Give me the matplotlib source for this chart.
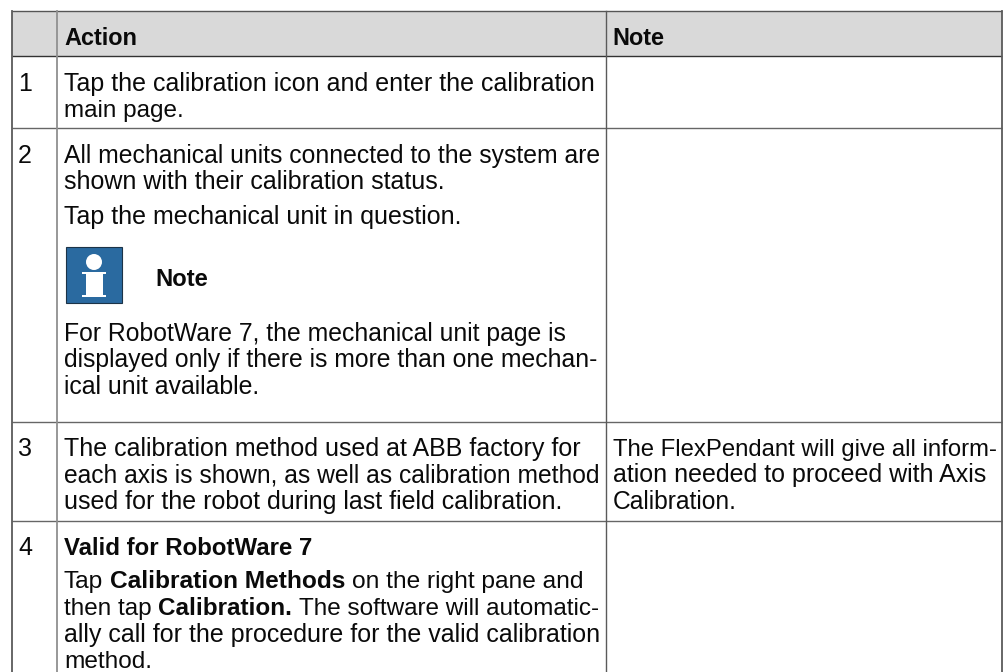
import matplotlib
matplotlib.use("Agg")
import matplotlib.pyplot as plt
from matplotlib.patches import Rectangle, Circle

plt.rcParams['font.family'] = ['Liberation Sans', 'DejaVu Sans']

header_labels = ["Action", "Note"]
step_numbers = ["1", "2", "3", "4"]
step_baselines = [91, 163, 456, 555]
# (baseline, right end of line, runs of (text, bold))
action_lines = [
    (91, 596, [("Tap the calibration icon and enter the calibration", False)]),
    (117, 184, [("main page.", False)]),
    (163, 599.3, [("All mechanical units connected to the system are", False)]),
    (189, 445, [("shown with their calibration status.", False)]),
    (224, 462, [("Tap the mechanical unit in question.", False)]),
    (341, 566, [("For RobotWare 7, the mechanical unit page is", False)]),
    (367, 599.5, [("displayed only if there is more than one mechan-", False)]),
    (394, 260, [("ical unit available.", False)]),
    (456, 580, [("The calibration method used at ABB factory for", False)]),
    (482, 599, [("each axis is shown, as well as calibration method", False)]),
    (509, 563, [("used for the robot during last field calibration.", False)]),
    (555, 313, [("Valid for RobotWare 7", True)]),
    (588, 584, [("Tap", False), ("Calibration Methods", True), ("on the right pane and", False)]),
    (615, 600, [("then tap", False), ("Calibration.", True), ("The software will automatic-", False)]),
    (642, 599.5, [("ally call for the procedure for the valid calibration", False)]),
    (668, 152, [("method.", False)]),
]
note_lines = [
    (456, 996, "The FlexPendant will give all inform-"),
    (482, 986, "ation needed to proceed with Axis"),
    (509, 737, "Calibration."),
]
col_edges = [12, 57.5, 606.5, 1002]
row_edges = [10.5, 56, 128, 421.7, 520.7]

FS = 18.0
fig = plt.figure(figsize=(10.06, 6.72), dpi=100)
ax = fig.add_axes([0, 0, 1, 1])
ax.set_xlim(0, 1006)
ax.set_ylim(672, 0)
ax.axis('off')

ax.add_patch(Rectangle((col_edges[0], row_edges[0]), col_edges[-1]-col_edges[0],
                       row_edges[1]-row_edges[0], fc='#d9d9d9', ec='none', zorder=0))
lc = '#5a5a5a'
line_colors = ['#555555', '#333333', '#666666', '#666666', '#666666']
for y, c in zip(row_edges, line_colors):
    ax.plot([col_edges[0], col_edges[-1]], [y, y], color=c, lw=1.0, solid_capstyle='butt', zorder=2)
ax.plot([col_edges[0]]*2, [row_edges[0], 672], color=lc, lw=1.3, zorder=2)
ax.plot([col_edges[1]]*2, [row_edges[0], 672], color='#909090', lw=1.3, zorder=2)
ax.plot([col_edges[2]]*2, [row_edges[0], 672], color=lc, lw=1.0, zorder=2)
ax.plot([col_edges[3]]*2, [row_edges[0], 672], color=lc, lw=1.3, zorder=2)

tc = '#0a0a0a'
r = fig.canvas.get_renderer()


def width(s, bold, fs=FS):
    p = ax.text(0, 0, s, fontsize=fs, fontweight='bold' if bold else 'normal')
    w = p.get_window_extent(r).width
    p.remove()
    return w


def draw_line(x0, x1, y, runs):
    widths = [width(s, b) for s, b in runs]
    space = 0.278 * FS * 100 / 72
    natural = sum(widths) + space * (len(runs) - 1)
    fs = FS * (x1 - x0) / natural
    x = x0
    for s, b in runs:
        ax.text(x, y, s, fontsize=fs, fontweight='bold' if b else 'normal', color=tc, va='baseline')
        x += width(s, b, fs) + space * fs / FS


draw_line(64, 137, 45, [(header_labels[0], True)])
draw_line(612.7, 665, 45, [(header_labels[1], True)])
for n, y in zip(step_numbers, step_baselines):
    ax.text(18, y, n, fontsize=FS, color=tc, va='baseline')
for y, xe, runs in action_lines:
    draw_line(64, xe, y, runs)
for y, xe, s in note_lines:
    draw_line(612.7, xe, y, [(s, False)])

# note icon
ax.add_patch(Rectangle((66, 247), 56.5, 56, fc='#2a6aa0', ec='#1c3347', lw=0.8, zorder=3))
ax.add_patch(Circle((94, 262), 8, fc='white', ec='none', zorder=4))
ax.add_patch(Rectangle((82, 272), 24.5, 2.4, fc='white', ec='none', zorder=4))
ax.add_patch(Rectangle((86, 274), 17, 22, fc='white', ec='none', zorder=4))
ax.add_patch(Rectangle((82, 295), 24.5, 2.2, fc='white', ec='none', zorder=4))
draw_line(155, 208, 286, [("Note", True)])

fig.savefig('out.png', dpi=100, facecolor='white')
